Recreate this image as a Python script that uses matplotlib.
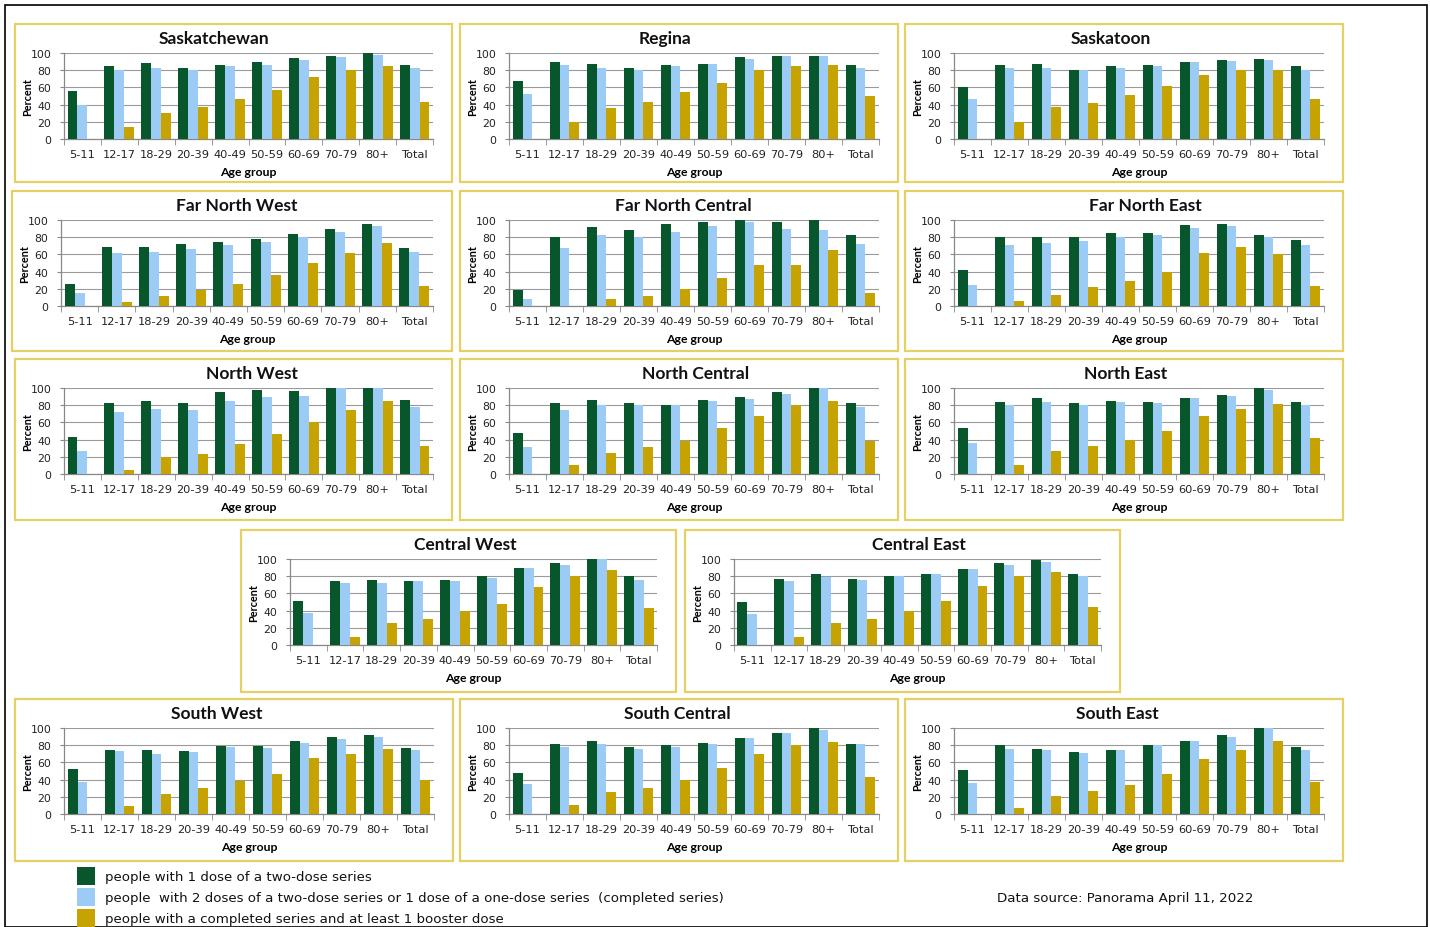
import matplotlib
matplotlib.use("Agg")
import matplotlib.pyplot as plt
from matplotlib.patches import Rectangle
import numpy as np

age_groups = ["5-11", "12-17", "18-29", "20-39", "40-49", "50-59", "60-69", "70-79", "80+", "Total"]

# one dose / two doses (completed) / booster
sask_d1 = [56, 85, 88, 83, 86, 89, 94, 97, 100, 86]
sask_d2 = [40, 80, 82, 80, 85, 86, 92, 95, 98, 82]
sask_b = [0, 14, 30, 37, 46, 57, 72, 80, 85, 43]

regina_d1 = [67, 90, 87, 82, 86, 87, 95, 96, 97, 86]
regina_d2 = [52, 86, 83, 80, 85, 87, 93, 96, 96, 83]
regina_b = [0, 20, 36, 43, 55, 65, 80, 85, 86, 50]

saskatoon_d1 = [61, 86, 87, 80, 85, 86, 90, 92, 93, 85]
saskatoon_d2 = [47, 83, 83, 80, 83, 85, 90, 91, 92, 80]
saskatoon_b = [0, 20, 37, 42, 51, 62, 75, 80, 80, 47]

fnw_d1 = [26, 69, 69, 72, 75, 78, 84, 89, 95, 67]
fnw_d2 = [15, 62, 63, 66, 71, 75, 80, 86, 93, 63]
fnw_b = [0, 5, 12, 19, 26, 36, 50, 62, 73, 23]

fnc_d1 = [19, 80, 92, 88, 95, 98, 100, 98, 100, 82]
fnc_d2 = [8, 68, 82, 80, 86, 93, 98, 90, 88, 72]
fnc_b = [0, 0, 8, 12, 20, 33, 48, 48, 65, 15]

fne_d1 = [42, 80, 80, 80, 85, 85, 94, 95, 82, 77]
fne_d2 = [25, 71, 73, 76, 80, 83, 91, 93, 80, 71]
fne_b = [0, 6, 13, 22, 29, 40, 62, 69, 60, 23]

nw_d1 = [43, 82, 85, 82, 95, 98, 96, 100, 100, 86]
nw_d2 = [27, 72, 76, 74, 85, 89, 91, 100, 100, 78]
nw_b = [0, 5, 20, 23, 35, 47, 61, 75, 85, 33]

nc_d1 = [48, 82, 86, 83, 80, 86, 89, 95, 100, 82]
nc_d2 = [31, 75, 80, 80, 80, 85, 87, 93, 100, 78]
nc_b = [0, 10, 24, 31, 38, 54, 67, 80, 85, 38]

ne_d1 = [53, 84, 88, 82, 85, 84, 88, 92, 100, 84]
ne_d2 = [36, 80, 84, 80, 84, 82, 88, 91, 98, 80]
ne_b = [0, 10, 27, 32, 40, 50, 67, 76, 81, 42]

cw_d1 = [51, 75, 76, 75, 76, 80, 89, 95, 100, 80]
cw_d2 = [37, 72, 72, 74, 75, 78, 89, 93, 100, 76]
cw_b = [0, 9, 26, 30, 39, 48, 68, 80, 87, 43]

ce_d1 = [50, 77, 82, 77, 80, 83, 88, 95, 99, 82]
ce_d2 = [36, 75, 79, 76, 80, 82, 88, 93, 97, 80]
ce_b = [0, 9, 26, 30, 40, 51, 69, 80, 85, 44]

sw_d1 = [52, 75, 75, 73, 79, 79, 85, 89, 92, 77]
sw_d2 = [37, 73, 70, 72, 78, 77, 83, 87, 90, 75]
sw_b = [0, 9, 23, 30, 38, 47, 65, 70, 76, 40]

sc_d1 = [48, 81, 85, 78, 80, 82, 88, 94, 100, 81]
sc_d2 = [35, 78, 81, 76, 78, 81, 88, 94, 98, 81]
sc_b = [0, 10, 26, 30, 40, 53, 70, 80, 84, 43]

se_d1 = [51, 80, 76, 72, 75, 80, 85, 92, 100, 78]
se_d2 = [36, 76, 75, 71, 75, 80, 85, 90, 100, 75]
se_b = [0, 7, 21, 27, 34, 47, 64, 75, 85, 37]

legend_labels = [
    "people with 1 dose of a two-dose series",
    "people  with 2 doses of a two-dose series or 1 dose of a one-dose series  (completed series)",
    "people with a completed series and at least 1 booster dose",
]

GREEN = "#08562b"
BLUE = "#9ccbf6"
GOLD = "#c6a300"
FRAME = "#e6d064"

W, H = 1430, 928

# panel frames in pixels: x, y, w, h, and a nudge for the title centre
panels = [
    ("Saskatchewan", sask_d1, sask_d2, sask_b, (15, 25, 437, 158), -20),
    ("Regina", regina_d1, regina_d2, regina_b, (460, 25, 438, 158), -14),
    ("Saskatoon", saskatoon_d1, saskatoon_d2, saskatoon_b, (905, 25, 438, 158), -13),
    ("Far North West", fnw_d1, fnw_d2, fnw_b, (12, 192, 440, 160), 5),
    ("Far North Central", fnc_d1, fnc_d2, fnc_b, (460, 192, 438, 160), 4),
    ("Far North East", fne_d1, fne_d2, fne_b, (905, 192, 438, 160), 21),
    ("North West", nw_d1, nw_d2, nw_b, (15, 360, 437, 161), 18),
    ("North Central", nc_d1, nc_d2, nc_b, (460, 360, 438, 161), 17),
    ("North East", ne_d1, ne_d2, ne_b, (905, 360, 438, 161), 2),
    ("Central West", cw_d1, cw_d2, cw_b, (241, 531, 435, 162), 7),
    ("Central East", ce_d1, ce_d2, ce_b, (685, 531, 435, 162), 16),
    ("South West", sw_d1, sw_d2, sw_b, (15, 700, 438, 162), -17),
    ("South Central", sc_d1, sc_d2, sc_b, (460, 700, 438, 162), -2),
    ("South East", se_d1, se_d2, se_b, (905, 700, 438, 162), -7),
]


def fig_rect(x, y, w, h):
    return [x / W, 1 - (y + h) / H, w / W, h / H]


def draw_panel(fig, title, d1, d2, b, frame, tshift):
    fx, fy, fw, fh = frame
    fig.patches.append(Rectangle((fx / W, 1 - (fy + fh) / H), fw / W, fh / H,
                                 transform=fig.transFigure, fill=False,
                                 edgecolor=FRAME, linewidth=1.6))
    aw = fw - 68
    ax = fig.add_axes(fig_rect(fx + 49, fy + 29, aw, 86))
    x = np.arange(len(age_groups))
    bw = 0.27
    ax.bar(x - bw, d1, bw, color=GREEN, zorder=3)
    ax.bar(x, d2, bw, color=BLUE, zorder=3)
    ax.bar(x + bw, b, bw, color=GOLD, zorder=3)
    ax.set_xlim(-0.5, len(age_groups) - 0.5)
    ax.set_ylim(0, 100)
    ax.set_yticks(range(0, 101, 20))
    ax.yaxis.grid(True, color="#9a9a9a", linewidth=0.8, zorder=0)
    ax.set_xticks(x)
    ax.set_xticklabels(age_groups, fontsize=8.2, color="#222222")
    ax.set_xticks(np.arange(-0.5, len(age_groups)), minor=True)
    ax.tick_params(axis="x", which="major", length=0, pad=7)
    ax.tick_params(axis="x", which="minor", length=4, color="#888888", direction="out")
    ax.tick_params(axis="y", length=3, color="#888888", labelsize=7.8, labelcolor="#222222", pad=6)
    for side in ["top", "right"]:
        ax.spines[side].set_visible(False)
    for side in ["left", "bottom"]:
        ax.spines[side].set_color("#888888")
        ax.spines[side].set_linewidth(0.9)
    fig.text((fx + fw / 2 + tshift) / W, 1 - (fy + 14) / H, title, fontsize=12.5,
             fontweight="bold", family="Lato", ha="center", va="center", color="#111111")
    ax.set_xlabel("Age group", fontsize=8.8, fontweight="bold", family="Lato", labelpad=5)
    ax.set_ylabel("Percent", fontsize=7.8, fontweight="bold", family="Lato")
    ax.yaxis.set_label_coords(-31 / aw, 0.5)
    return ax


fig = plt.figure(figsize=(W / 100, H / 100), dpi=100)
fig.patch.set_facecolor("white")

# outer page border
fig.patches.append(Rectangle((5 / W, 0), 1422 / W, 922 / H, transform=fig.transFigure,
                             fill=False, edgecolor="black", linewidth=1.2))

for title, d1, d2, b, frame, tshift in panels:
    draw_panel(fig, title, d1, d2, b, frame, tshift)

# legend squares and labels
colors = [GREEN, BLUE, GOLD]
for i, (lab, col) in enumerate(zip(legend_labels, colors)):
    y = 868 + i * 21
    fig.patches.append(Rectangle((77 / W, 1 - (y + 18) / H), 18 / W, 18 / H,
                                 transform=fig.transFigure, facecolor=col, edgecolor="none"))
    fig.text(105 / W, 1 - (y + 10) / H, lab, fontsize=9.6, va="center", ha="left", color="#111111")

fig.text(997 / W, 1 - 899 / H, "Data source: Panorama April 11, 2022", fontsize=9.6,
         va="center", ha="left", color="#111111")

fig.savefig("out.png", dpi=100)
